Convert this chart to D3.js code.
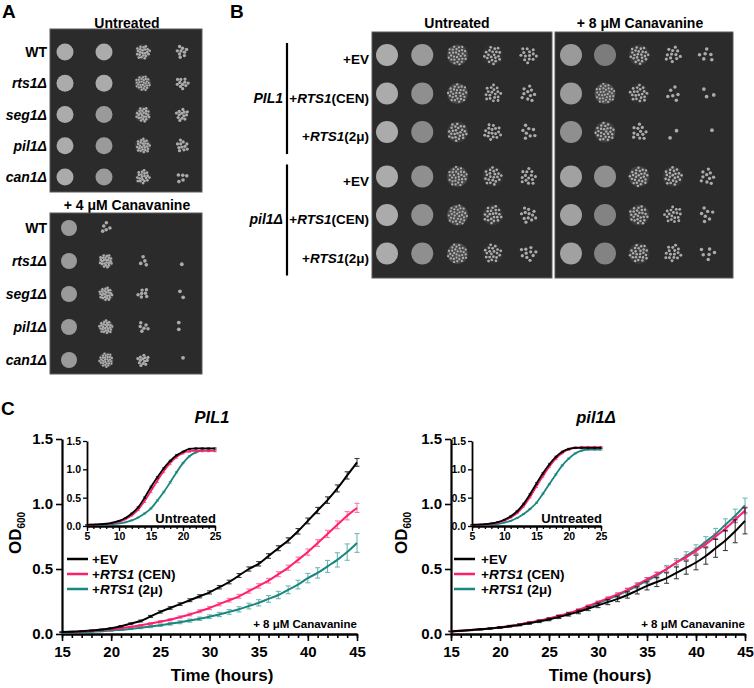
<!DOCTYPE html>
<html><head><meta charset="utf-8">
<script src="https://cdn.jsdelivr.net/npm/d3@7"></script>
<style>
body{margin:0;background:#fff}
svg{display:block;font-family:"Liberation Sans",Arial,Helvetica,sans-serif;font-weight:bold}
</style>
</head><body>
<svg id="fig" width="754" height="688"></svg>
<script>
// ---------------- DATA ----------------
// Panel A: spot growth level (0 = none, 1 = confluent) per strain x dilution
const strainsA = [["WT", false], ["rts1Δ", true], ["seg1Δ", true], ["pil1Δ", true], ["can1Δ", true]];
const growthA_untreated = [
  [1, 1, 0.55, 0.22],
  [1, 1, 0.72, 0.28],
  [1, 0.95, 0.6, 0.32],
  [1, 0.95, 0.62, 0.28],
  [1, 0.95, 0.5, 0.12]
];
const growthA_canavanine = [
  [0.95, 0.12, 0.0, 0.0],
  [0.95, 0.6, 0.1, 0.03],
  [0.95, 0.62, 0.18, 0.04],
  [0.95, 0.65, 0.16, 0.05],
  [0.95, 0.72, 0.32, 0.02]
];
const titleA1 = "Untreated";
const titleA2 = "+ 4 μM Canavanine";

// Panel B
const groupsB = [["PIL1", "PIL1"], ["pil1Δ", "pil1Δ"]];
const rowsB = [
  [["+EV", false]],
  [["+", false], ["RTS1", true], ["(CEN)", false]],
  [["+", false], ["RTS1", true], ["(2μ)", false]],
  [["+EV", false]],
  [["+", false], ["RTS1", true], ["(CEN)", false]],
  [["+", false], ["RTS1", true], ["(2μ)", false]]
];
const growthB_untreated = [
  [1, 0.95, 0.72, 0.5, 0.36],
  [1, 0.92, 0.7, 0.45, 0.26],
  [1, 0.9, 0.62, 0.42, 0.2],
  [1, 0.92, 0.72, 0.52, 0.36],
  [1, 0.92, 0.78, 0.55, 0.3],
  [1, 0.92, 0.74, 0.5, 0.26]
];
const growthB_canavanine = [
  [0.95, 0.86, 0.58, 0.3, 0.14],
  [0.95, 0.8, 0.5, 0.16, 0.07],
  [0.92, 0.66, 0.3, 0.06, 0.03],
  [0.97, 0.92, 0.66, 0.55, 0.26],
  [0.97, 0.88, 0.62, 0.45, 0.18],
  [0.97, 0.88, 0.6, 0.4, 0.16]
];
const titleB1 = "Untreated";
const titleB2 = "+ 8 μM Canavanine";

// Panel C: OD600 growth curves
const seriesNames = [[["+EV", false]], [["+", false], ["RTS1", true], [" (CEN)", false]], [["+", false], ["RTS1", true], [" (2μ)", false]]];
const seriesColors = ["#000000", "#ff1f6e", "#17877f"];
const hoursMain = d3.range(15, 46);   // 15..45 h
const hoursInset = d3.range(5, 26);   // 5..25 h
const xTicksMain = [15, 20, 25, 30, 35, 40, 45];
const xTicksInset = [5, 10, 15, 20, 25];
const yTicksMain = [0, 0.5, 1.0, 1.5];

// PIL1, + 8 μM canavanine
const pil1WT_can_EV  = [0.015,0.018,0.022,0.027,0.034,0.045,0.06,0.08,0.10,0.135,0.17,0.20,0.23,0.26,0.29,0.32,0.36,0.40,0.45,0.50,0.54,0.60,0.66,0.72,0.79,0.87,0.95,1.03,1.12,1.22,1.32];
const pil1WT_can_CEN = [0.015,0.017,0.02,0.025,0.03,0.037,0.045,0.055,0.067,0.08,0.095,0.11,0.13,0.15,0.175,0.20,0.23,0.26,0.29,0.33,0.37,0.41,0.46,0.51,0.57,0.63,0.70,0.77,0.84,0.91,0.97];
const pil1WT_can_2u  = [0.01,0.012,0.014,0.017,0.021,0.026,0.032,0.04,0.048,0.057,0.067,0.078,0.09,0.103,0.117,0.133,0.15,0.17,0.19,0.215,0.24,0.27,0.30,0.34,0.38,0.43,0.47,0.52,0.57,0.63,0.70];
const pil1WT_can_EV_sd  = [0.002,0.002,0.002,0.003,0.003,0.004,0.005,0.006,0.007,0.008,0.009,0.01,0.01,0.011,0.012,0.012,0.013,0.014,0.015,0.016,0.017,0.018,0.019,0.02,0.021,0.022,0.024,0.025,0.027,0.028,0.03];
const pil1WT_can_CEN_sd = [0.002,0.002,0.002,0.003,0.003,0.004,0.004,0.005,0.006,0.007,0.008,0.008,0.009,0.01,0.011,0.012,0.013,0.014,0.015,0.016,0.017,0.018,0.019,0.02,0.022,0.024,0.026,0.028,0.03,0.032,0.035];
const pil1WT_can_2u_sd  = [0.002,0.002,0.002,0.003,0.003,0.004,0.005,0.006,0.007,0.008,0.009,0.01,0.011,0.012,0.013,0.014,0.016,0.018,0.02,0.022,0.024,0.026,0.028,0.03,0.033,0.036,0.04,0.046,0.055,0.063,0.072];

// pil1Δ, + 8 μM canavanine
const pil1D_can_EV  = [0.02,0.025,0.03,0.036,0.043,0.05,0.06,0.07,0.083,0.097,0.112,0.13,0.15,0.17,0.195,0.22,0.245,0.27,0.30,0.335,0.37,0.40,0.43,0.47,0.51,0.55,0.60,0.66,0.72,0.79,0.87];
const pil1D_can_CEN = [0.02,0.025,0.03,0.036,0.043,0.052,0.062,0.074,0.088,0.103,0.12,0.14,0.16,0.185,0.215,0.245,0.275,0.305,0.34,0.38,0.42,0.46,0.50,0.55,0.59,0.64,0.69,0.75,0.81,0.88,0.95];
const pil1D_can_2u  = [0.02,0.024,0.029,0.035,0.042,0.05,0.06,0.072,0.086,0.101,0.118,0.137,0.157,0.18,0.208,0.237,0.267,0.298,0.332,0.37,0.41,0.45,0.50,0.55,0.60,0.65,0.71,0.77,0.84,0.91,0.99];
const pil1D_can_EV_sd  = [0.002,0.002,0.003,0.003,0.004,0.005,0.006,0.007,0.008,0.009,0.01,0.011,0.012,0.014,0.015,0.017,0.019,0.021,0.024,0.027,0.031,0.035,0.04,0.045,0.05,0.056,0.063,0.07,0.078,0.088,0.1];
const pil1D_can_CEN_sd = [0.002,0.002,0.002,0.003,0.003,0.003,0.004,0.004,0.005,0.005,0.006,0.006,0.007,0.008,0.008,0.009,0.01,0.011,0.012,0.013,0.014,0.015,0.016,0.017,0.018,0.019,0.02,0.021,0.022,0.024,0.026];
const pil1D_can_2u_sd  = [0.002,0.002,0.002,0.003,0.003,0.004,0.004,0.005,0.006,0.007,0.008,0.009,0.01,0.011,0.012,0.013,0.015,0.017,0.019,0.021,0.023,0.025,0.027,0.03,0.033,0.036,0.039,0.042,0.046,0.05,0.055];

// PIL1, untreated (inset)
const pil1WT_unt_EV  = [0.02,0.025,0.03,0.04,0.06,0.09,0.14,0.22,0.33,0.50,0.69,0.86,1.02,1.15,1.25,1.31,1.36,1.37,1.37,1.37,1.37];
const pil1WT_unt_CEN = [0.02,0.024,0.028,0.036,0.05,0.075,0.12,0.19,0.29,0.44,0.62,0.80,0.97,1.11,1.22,1.29,1.32,1.33,1.33,1.33,1.33];
const pil1WT_unt_2u  = [0.015,0.017,0.02,0.025,0.032,0.045,0.065,0.10,0.15,0.22,0.31,0.45,0.60,0.77,0.95,1.11,1.23,1.30,1.33,1.33,1.33];
const pil1WT_unt_EV_sd  = [0.002,0.002,0.002,0.003,0.004,0.005,0.007,0.009,0.011,0.013,0.014,0.014,0.013,0.012,0.011,0.01,0.01,0.01,0.01,0.01,0.01];
const pil1WT_unt_CEN_sd = [0.002,0.002,0.003,0.004,0.005,0.007,0.01,0.015,0.02,0.025,0.03,0.03,0.03,0.028,0.025,0.022,0.02,0.02,0.02,0.02,0.02];
const pil1WT_unt_2u_sd  = [0.002,0.002,0.002,0.003,0.003,0.004,0.005,0.006,0.008,0.01,0.012,0.013,0.014,0.014,0.013,0.012,0.011,0.01,0.01,0.01,0.01];

// pil1Δ, untreated (inset)
const pil1D_unt_EV  = [0.02,0.025,0.03,0.045,0.07,0.11,0.17,0.26,0.39,0.56,0.75,0.93,1.09,1.22,1.31,1.36,1.38,1.38,1.38,1.38,1.38];
const pil1D_unt_CEN = [0.02,0.024,0.03,0.04,0.06,0.095,0.15,0.23,0.35,0.51,0.70,0.88,1.05,1.19,1.29,1.35,1.38,1.39,1.39,1.39,1.39];
const pil1D_unt_2u  = [0.015,0.018,0.022,0.03,0.04,0.06,0.09,0.14,0.21,0.30,0.41,0.57,0.74,0.91,1.07,1.19,1.28,1.33,1.35,1.35,1.35];
const pil1D_unt_EV_sd  = [0.002,0.002,0.003,0.004,0.005,0.007,0.009,0.011,0.013,0.015,0.016,0.016,0.015,0.013,0.012,0.011,0.01,0.01,0.01,0.01,0.01];
const pil1D_unt_CEN_sd = [0.002,0.002,0.003,0.004,0.005,0.007,0.009,0.012,0.015,0.018,0.02,0.02,0.02,0.018,0.016,0.015,0.015,0.015,0.015,0.015,0.015];
const pil1D_unt_2u_sd  = [0.002,0.002,0.002,0.003,0.003,0.004,0.005,0.006,0.008,0.01,0.011,0.012,0.012,0.012,0.011,0.01,0.01,0.01,0.01,0.01,0.01];

// ---------------- DRAWING ----------------
const svg = d3.select("#fig");
svg.append("rect").attr("width", 754).attr("height", 688).attr("fill", "#fff");

function richText(g, x, y, parts, size, anchor, allItalic) {
  const t = g.append("text").attr("x", x).attr("y", y).attr("font-size", size)
    .attr("text-anchor", anchor || "start").style("white-space", "pre");
  parts.forEach(p => t.append("tspan").text(p[0]).attr("font-style", (p[1] || allItalic) ? "italic" : "normal"));
  return t;
}

function drawSpot(g, cx, cy, r, L) {
  if (L <= 0) return;
  if (L >= 0.85) {
    g.append("circle").attr("cx", cx).attr("cy", cy).attr("r", r)
      .attr("fill", "#adadad").attr("fill-opacity", 0.6 + 0.38 * (L - 0.85) / 0.15);
    return;
  }
  if (L >= 0.45) {
    g.append("circle").attr("cx", cx).attr("cy", cy).attr("r", r * 0.95)
      .attr("fill", "#9a9a9a").attr("fill-opacity", (L - 0.45) * 1.0);
  }
  const n = Math.max(1, Math.round(L * 40));
  const cr = 1.0 + (0.85 - L) * 1.1;
  const R = r * (0.72 + 0.28 * L) - cr * 0.3;
  for (let i = 0; i < n; i++) {
    const rr = R * Math.sqrt((i + 0.5) / n);
    const th = i * 2.39996 + cx * 0.37 + cy * 0.11;
    g.append("circle")
      .attr("cx", cx + rr * Math.cos(th)).attr("cy", cy + rr * Math.sin(th))
      .attr("r", cr).attr("fill", "#c2c2c2").attr("fill-opacity", 0.85);
  }
}

function drawPlate(g, x0, y0, w, h, colX, rowY, growth, r) {
  g.append("rect").attr("x", x0).attr("y", y0).attr("width", w).attr("height", h)
    .attr("fill", "#2b2b2b").attr("stroke", "#5a5a5a").attr("stroke-width", 1);
  growth.forEach((row, i) => row.forEach((L, j) => drawSpot(g, colX(j), rowY(i), r, L)));
}

// Panel letters
svg.append("text").attr("x", 2).attr("y", 18).attr("font-size", 19).text("A");
svg.append("text").attr("x", 230).attr("y", 18).attr("font-size", 19).text("B");
svg.append("text").attr("x", 1).attr("y", 415).attr("font-size", 19).text("C");

// ---- Panel A ----
const gA = svg.append("g");
gA.append("text").attr("x", 127).attr("y", 28).attr("text-anchor", "middle").attr("font-size", 14).text(titleA1);
gA.append("text").attr("x", 127).attr("y", 210).attr("text-anchor", "middle").attr("font-size", 14).text(titleA2);
const colA1 = d3.scaleLinear().domain([0, 3]).range([65, 182]);
const rowA1 = d3.scaleLinear().domain([0, 4]).range([52, 177]);
const colA2 = d3.scaleLinear().domain([0, 3]).range([69, 180]);
const rowA2 = d3.scaleLinear().domain([0, 4]).range([228, 360]);
drawPlate(gA, 50, 29, 152, 163, colA1, rowA1, growthA_untreated, 8.5);
drawPlate(gA, 50, 213, 152, 161, colA2, rowA2, growthA_canavanine, 8);
strainsA.forEach((s, i) => {
  richText(gA, 47, rowA1(i) + 5, [s], 14, "end");
  richText(gA, 47, rowA2(i) + 5, [s], 14, "end");
});

// ---- Panel B ----
const gB = svg.append("g");
gB.append("text").attr("x", 457).attr("y", 28).attr("text-anchor", "middle").attr("font-size", 14).text(titleB1);
gB.append("text").attr("x", 640).attr("y", 28).attr("text-anchor", "middle").attr("font-size", 14).text(titleB2);
const rowB = i => 55 + i * 38.5 + (i >= 3 ? 6 : 0);
const colB1 = d3.scaleLinear().domain([0, 4]).range([387, 528]);
const colB2 = d3.scaleLinear().domain([0, 4]).range([571, 707]);
drawPlate(gB, 372, 32, 180, 246, colB1, rowB, growthB_untreated, 11);
drawPlate(gB, 555, 32, 178, 246, colB2, rowB, growthB_canavanine, 11);
rowsB.forEach((parts, i) => richText(gB, 369, rowB(i) + 9, parts, 13.5, "end"));
[[0, 2], [3, 5]].forEach((rg, k) => {
  gB.append("line").attr("x1", 287).attr("x2", 287)
    .attr("y1", rowB(rg[0]) - 12).attr("y2", rowB(rg[1]) + 22)
    .attr("stroke", "#000").attr("stroke-width", 2.2);
  richText(gB, 283, rowB(rg[0] + 1) + 9, [[groupsB[k][0], true]], 14, "end");
});

// ---- Panel C ----
function growthChart(cfg) {
  const g = svg.append("g");
  const x = d3.scaleLinear().domain([15, 45]).range(cfg.xr);
  const y = d3.scaleLinear().domain([0, 1.5]).range([634, 439]);

  const xMinor = g.append("g").attr("transform", `translate(0,${y(0)})`)
    .call(d3.axisBottom(x).tickValues(hoursMain).tickSize(4).tickSizeOuter(0).tickFormat(""));
  const xMajor = g.append("g").attr("transform", `translate(0,${y(0)})`)
    .call(d3.axisBottom(x).tickValues(xTicksMain).tickSize(7).tickSizeOuter(0).tickPadding(4).tickFormat(d3.format("d")));
  const yAx = g.append("g").attr("transform", `translate(${x(15)},0)`)
    .call(d3.axisLeft(y).tickValues(yTicksMain).tickSize(6).tickSizeOuter(0).tickPadding(3).tickFormat(d3.format(".1f")));
  [xMinor, xMajor, yAx].forEach(a => {
    a.select(".domain").attr("stroke", "#000").attr("stroke-width", 2.2);
    a.selectAll(".tick line").attr("stroke", "#000").attr("stroke-width", 1.6);
    a.selectAll("text").attr("font-size", 15).attr("font-weight", "bold").attr("fill", "#000")
      .attr("font-family", '"Liberation Sans",Arial,sans-serif');
  });
  xMajor.selectAll("text").attr("dy", "0.78em");

  g.append("text").attr("x", cfg.titleX).attr("y", 423).attr("text-anchor", "middle")
    .attr("font-size", 16.5).attr("font-style", "italic").text(cfg.title);
  g.append("text").attr("x", cfg.timeX).attr("y", 681).attr("text-anchor", "middle")
    .attr("font-size", 17).text("Time (hours)");
  const od = g.append("text").attr("transform", `translate(${cfg.odX},533) rotate(-90)`)
    .attr("text-anchor", "middle").attr("font-size", 17);
  od.append("tspan").text("OD");
  od.append("tspan").attr("font-size", 10).attr("dy", 4).text("600");
  g.append("text").attr("x", x(45)).attr("y", 628).attr("text-anchor", "end")
    .attr("font-size", 11.5).text("+ 8 μM Canavanine");

  const line = d3.line().x((d, i) => x(hoursMain[i])).y(d => y(d)).curve(d3.curveMonotoneX);
  [2, 1, 0].forEach(s => {
    const vals = cfg.series[s], sds = cfg.sds[s], c = seriesColors[s];
    const eb = g.append("g").attr("stroke", c).attr("stroke-width", 1.1).attr("opacity", s === 0 ? 0.75 : 0.6);
    vals.forEach((v, i) => {
      const xx = x(hoursMain[i]), y1 = y(v - sds[i]), y2 = y(v + sds[i]);
      eb.append("line").attr("x1", xx).attr("x2", xx).attr("y1", y1).attr("y2", y2);
      eb.append("line").attr("x1", xx - 2.5).attr("x2", xx + 2.5).attr("y1", y1).attr("y2", y1);
      eb.append("line").attr("x1", xx - 2.5).attr("x2", xx + 2.5).attr("y1", y2).attr("y2", y2);
    });
    g.append("path").datum(vals).attr("d", line).attr("fill", "none")
      .attr("stroke", c).attr("stroke-width", 2);
  });

  seriesNames.forEach((nm, i) => {
    const ly = 559 + i * 15;
    g.append("line").attr("x1", cfg.legX).attr("x2", cfg.legX + 21).attr("y1", ly).attr("y2", ly)
      .attr("stroke", seriesColors[i]).attr("stroke-width", 2.5);
    richText(g, cfg.legX + (cfg.legGap), ly + 5, nm, 13.5, "start");
  });

  const xi = d3.scaleLinear().domain([5, 25]).range(cfg.ixr);
  const yi = d3.scaleLinear().domain([0, 1.5]).range([526, 441]);
  const iMinor = g.append("g").attr("transform", `translate(0,${yi(0)})`)
    .call(d3.axisBottom(xi).tickValues(hoursInset).tickSize(3).tickSizeOuter(0).tickFormat(""));
  const iMajor = g.append("g").attr("transform", `translate(0,${yi(0)})`)
    .call(d3.axisBottom(xi).tickValues(xTicksInset).tickSize(5).tickSizeOuter(0).tickPadding(2).tickFormat(d3.format("d")));
  const iY = g.append("g").attr("transform", `translate(${xi(5)},0)`)
    .call(d3.axisLeft(yi).tickValues(yTicksMain).tickSize(4).tickSizeOuter(0).tickPadding(2).tickFormat(d3.format(".1f")));
  [iMinor, iMajor, iY].forEach(a => {
    a.select(".domain").attr("stroke", "#000").attr("stroke-width", 1.8);
    a.selectAll(".tick line").attr("stroke", "#000").attr("stroke-width", 1.3);
    a.selectAll("text").attr("font-size", 10.5).attr("font-weight", "bold").attr("fill", "#000")
      .attr("font-family", '"Liberation Sans",Arial,sans-serif');
  });
  g.append("text").attr("x", xi(25) + 1).attr("y", 523).attr("text-anchor", "end")
    .attr("font-size", 13).text("Untreated");
  const lineI = d3.line().x((d, i) => xi(hoursInset[i])).y(d => yi(d)).curve(d3.curveMonotoneX);
  [2, 1, 0].forEach(s => {
    const vals = cfg.iseries[s], sds = cfg.isds[s], c = seriesColors[s];
    const eb = g.append("g").attr("stroke", c).attr("stroke-width", 1).attr("opacity", 0.7);
    vals.forEach((v, i) => {
      const xx = xi(hoursInset[i]), y1 = yi(v - sds[i]), y2 = yi(v + sds[i]);
      eb.append("line").attr("x1", xx).attr("x2", xx).attr("y1", y1 - 0.5).attr("y2", y2 + 0.5);
      eb.append("line").attr("x1", xx - 1.5).attr("x2", xx + 1.5).attr("y1", y1).attr("y2", y1);
      eb.append("line").attr("x1", xx - 1.5).attr("x2", xx + 1.5).attr("y1", y2).attr("y2", y2);
    });
    g.append("path").datum(vals).attr("d", lineI).attr("fill", "none")
      .attr("stroke", c).attr("stroke-width", 1.8);
  });
}

growthChart({
  xr: [62, 357], ixr: [87, 215], title: "PIL1", titleX: 212, timeX: 222, odX: 21, legX: 67, legGap: 25,
  series: [pil1WT_can_EV, pil1WT_can_CEN, pil1WT_can_2u],
  sds: [pil1WT_can_EV_sd, pil1WT_can_CEN_sd, pil1WT_can_2u_sd],
  iseries: [pil1WT_unt_EV, pil1WT_unt_CEN, pil1WT_unt_2u],
  isds: [pil1WT_unt_EV_sd, pil1WT_unt_CEN_sd, pil1WT_unt_2u_sd]
});
growthChart({
  xr: [451, 745], ixr: [472, 601], title: "pil1Δ", titleX: 596, timeX: 600, odX: 407, legX: 454, legGap: 27,
  series: [pil1D_can_EV, pil1D_can_CEN, pil1D_can_2u],
  sds: [pil1D_can_EV_sd, pil1D_can_CEN_sd, pil1D_can_2u_sd],
  iseries: [pil1D_unt_EV, pil1D_unt_CEN, pil1D_unt_2u],
  isds: [pil1D_unt_EV_sd, pil1D_unt_CEN_sd, pil1D_unt_2u_sd]
});
</script>
</body></html>
